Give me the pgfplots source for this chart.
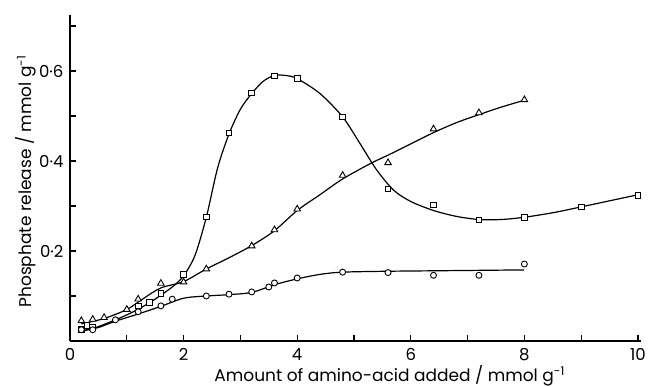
\documentclass[border=0pt]{standalone}
\usepackage{pgfplots}
\pgfplotsset{compat=1.18}
\usepackage{fontspec}
\setmainfont{Poppins}
\begin{document}
\begin{tikzpicture}
\useasboundingbox (-70pt,-46pt) rectangle (578pt,341pt);
\begin{axis}[
  scale only axis, width=570.8pt, height=325.8pt,
  xmin=0, xmax=10.05, ymin=0, ymax=0.724,
  axis lines=left, axis line style={-, line width=1.3pt},
  tick align=inside, major tick length=6pt, tick style={line width=1.1pt, black},
  xtick={0,1,2,3,4,5,6,7,8,9,10}, xticklabels={0,,2,,4,,6,,8,,10},
  ytick={0.1,0.2,0.3,0.4,0.5,0.6,0.7}, yticklabels={,0·2,,0·4,,0·6,},
  ticklabel style={font=\fontsize{16.5}{20}\selectfont},
  yticklabel style={anchor=east, xshift=-3pt},
  xticklabel style={anchor=north, yshift=-4pt},
  xlabel={Amount of amino-acid added / mmol g\textsuperscript{-1}},
  ylabel={Phosphate release / mmol g\textsuperscript{-1}},
  label style={font=\fontsize{17}{20}\selectfont},
  xlabel style={at={(axis description cs:0.56,0)}, anchor=base, yshift=-41pt},
  ylabel style={at={(axis description cs:0,0.49)}, anchor=base, yshift=38pt},
  clip=false,
  every axis plot/.append style={line width=1.2pt, black},
]
% fitted curves
\addplot[smooth, tension=0.5, no marks] coordinates {(0.2,0.022)(0.5,0.032)(1.0,0.058)(1.4,0.085)(1.8,0.12)(2.0,0.145)(2.2,0.19)(2.4,0.275)(2.6,0.385)(2.8,0.46)(3.0,0.515)(3.2,0.55)(3.4,0.577)(3.6,0.59)(3.8,0.59)(4.0,0.583)(4.4,0.55)(4.8,0.498)(5.1,0.44)(5.4,0.38)(5.7,0.335)(6.0,0.31)(6.4,0.29)(6.8,0.277)(7.2,0.27)(7.6,0.27)(8.0,0.275)(8.5,0.285)(9.0,0.298)(10.0,0.325)};
\addplot[smooth, tension=0.5, no marks] coordinates {(0.2,0.038)(0.6,0.05)(1.0,0.07)(1.3,0.095)(1.6,0.118)(2.0,0.132)(2.4,0.16)(2.8,0.185)(3.2,0.212)(3.6,0.245)(4.0,0.29)(4.4,0.325)(4.8,0.36)(5.3,0.395)(5.6,0.413)(6.0,0.438)(6.4,0.463)(6.8,0.485)(7.2,0.503)(7.6,0.52)(8.0,0.535)};
\addplot[smooth, tension=0.5, no marks] coordinates {(0.2,0.022)(0.5,0.03)(0.8,0.044)(1.2,0.06)(1.6,0.077)(2.0,0.095)(2.4,0.1)(2.8,0.103)(3.2,0.108)(3.6,0.125)(4.0,0.138)(4.4,0.148)(4.8,0.153)(5.6,0.155)(6.4,0.156)(7.2,0.157)(8.0,0.158)};
% data points
\addplot[only marks, mark=square*, mark size=2.8pt, mark options={fill=white, line width=0.9pt}] coordinates {(0.2,0.025)(0.3,0.035)(0.4,0.03)(1.2,0.078)(1.4,0.085)(1.6,0.106)(2.0,0.148)(2.4,0.276)(2.8,0.462)(3.2,0.551)(3.6,0.589)(4.0,0.584)(4.8,0.498)(5.6,0.338)(6.4,0.302)(7.2,0.269)(8.0,0.275)(9.0,0.298)(10.0,0.324)};
\addplot[only marks, mark=triangle*, mark size=3.8pt, mark options={fill=white, line width=0.9pt}] coordinates {(0.2,0.045)(0.4,0.048)(0.6,0.052)(1.0,0.07)(1.2,0.093)(1.6,0.128)(2.0,0.131)(2.4,0.16)(3.2,0.211)(3.6,0.247)(4.0,0.293)(4.8,0.368)(5.6,0.396)(6.4,0.471)(7.2,0.507)(8.0,0.536)};
\addplot[only marks, mark=*, mark size=3pt, mark options={fill=white, line width=0.9pt}] coordinates {(0.2,0.025)(0.4,0.025)(0.8,0.047)(1.2,0.065)(1.6,0.078)(1.8,0.093)(2.4,0.10)(2.8,0.104)(3.2,0.109)(3.5,0.12)(3.6,0.129)(4.0,0.14)(4.8,0.153)(5.6,0.152)(6.4,0.146)(7.2,0.146)(8.0,0.171)};
\end{axis}
\end{tikzpicture}
\end{document}
